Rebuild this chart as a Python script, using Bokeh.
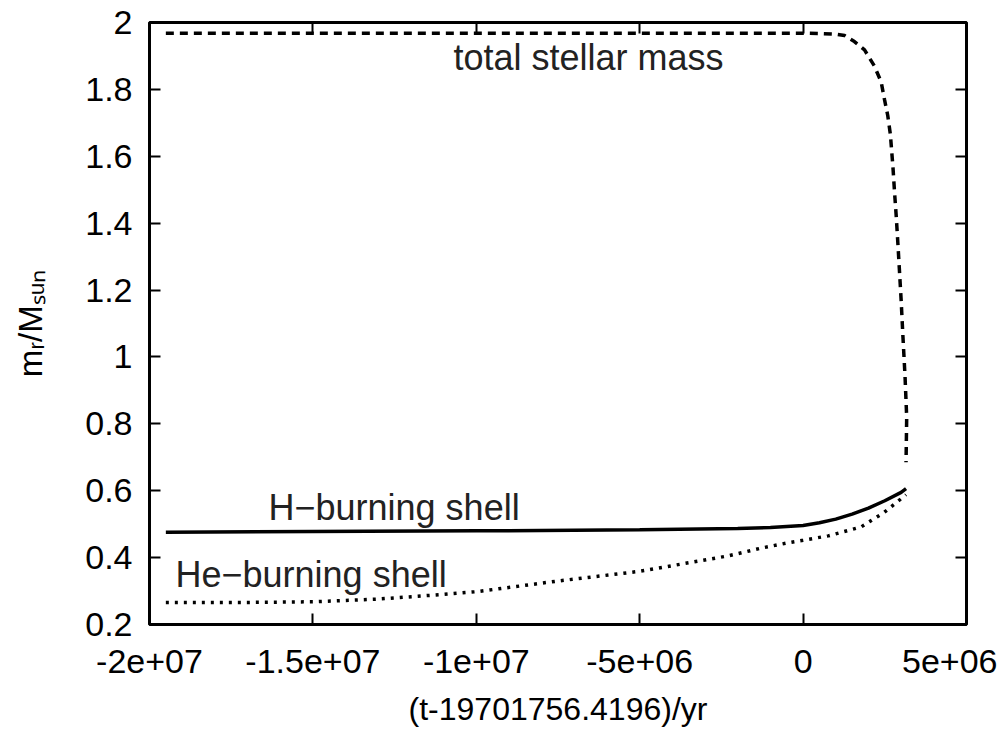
import math
from bokeh.plotting import figure
from bokeh.models import LinearAxis, FixedTicker, Label, CustomJSTickFormatter, Range1d
from bokeh.embed import file_html
from bokeh.resources import INLINE

# ---------------- data ----------------
mass_t = [-1.95e7, -1.0e7, 0.0, 5.0e5, 1.0e6, 1.27e6, 1.57e6, 1.88e6, 2.18e6, 2.39e6,
          2.49e6, 2.59e6, 2.67e6, 2.75e6, 2.80e6, 2.85e6, 2.90e6, 2.95e6, 3.00e6,
          3.05e6, 3.12e6, 3.17e6, 3.15e6]
mass_m = [1.968, 1.968, 1.968, 1.967, 1.965, 1.961, 1.943, 1.918, 1.870, 1.822,
          1.770, 1.722, 1.666, 1.567, 1.490, 1.420, 1.340, 1.255, 1.170,
          1.070, 0.940, 0.820, 0.685]

h_t = [-1.95e7, -1.5e7, -1.0e7, -5.0e6, -2.0e6, -1.0e6, 0.0, 5.0e5, 1.0e6, 1.5e6,
       2.0e6, 2.5e6, 3.0e6, 3.15e6]
h_m = [0.476, 0.478, 0.480, 0.483, 0.487, 0.490, 0.496, 0.504, 0.515, 0.530,
       0.548, 0.570, 0.595, 0.606]

he_t = [-1.95e7, -1.7e7, -1.5e7, -1.3e7, -1.1e7, -1.0e7, -7.5e6, -5.0e6, -2.3e6,
        -1.3e6, -3.7e5, 0.0, 7.7e5, 1.78e6, 2.48e6, 3.15e6]
he_m = [0.266, 0.266, 0.268, 0.276, 0.290, 0.298, 0.330, 0.359, 0.405,
        0.428, 0.446, 0.452, 0.465, 0.492, 0.535, 0.588]

x_ticks = [-2e7, -1.5e7, -1e7, -5e6, 0, 5e6]
x_tick_labels = ["-2e+07", "-1.5e+07", "-1e+07", "-5e+06", "0", "5e+06"]
y_ticks = [0.2, 0.4, 0.6, 0.8, 1.0, 1.2, 1.4, 1.6, 1.8, 2.0]
y_tick_labels = ["0.2", "0.4", "0.6", "0.8", "1", "1.2", "1.4", "1.6", "1.8", "2"]

x_label = "(t-19701756.4196)/yr"
y_label = "m\u1d63/M\u209b\u1d64\u2099"     # m_r / M_sun
curve_labels = ["total stellar mass", "H\u2212burning shell", "He\u2212burning shell"]

# ---------------- figure ----------------
FONT = "Liberation Sans"
TICK_SIZE = "34px"
X0, X1 = -2e7, 5e6
Y0, Y1 = 0.2, 2.0
W, H = 997, 730
FL, FR, FT, FB = 149, 966, 22, 624   # frame edges in page pixels

p = figure(width=W, height=H,
           x_range=Range1d(X0, X1), y_range=Range1d(Y0, Y1),
           output_backend="svg", toolbar_location=None,
           min_border_left=FL, min_border_right=W - FR,
           min_border_top=FT, min_border_bottom=H - FB)
p.xgrid.visible = False
p.ygrid.visible = False
p.background_fill_color = "white"
p.border_fill_color = "white"
p.outline_line_color = "black"
p.outline_line_width = 3
p.outline_line_alpha = 1.0


def px_to_x(px):
    return X0 + (px - FL) * (X1 - X0) / (FR - FL)


def py_to_y(py):
    return Y1 - (py - FT) * (Y1 - Y0) / (FB - FT)


def fmt(tvals, tlabels):
    return CustomJSTickFormatter(args=dict(tvals=tvals, tlabels=tlabels), code="""
        for (let i = 0; i < tvals.length; i++) {
            if (Math.abs(tvals[i] - tick) < 1e-6 * Math.max(1, Math.abs(tvals[i]))) return tlabels[i];
        }
        return '';
    """)


def style_axis(ax, tvals, tlabels, show_labels):
    ax.ticker = FixedTicker(ticks=tvals)
    ax.axis_line_color = None
    ax.major_tick_in = 11
    ax.major_tick_out = 0
    ax.major_tick_line_width = 2
    ax.major_tick_line_color = "black"
    ax.minor_tick_line_color = None
    if show_labels:
        ax.formatter = fmt(tvals, tlabels)
        ax.major_label_text_font = FONT
        ax.major_label_text_font_size = TICK_SIZE
        ax.major_label_text_color = "black"
    else:
        ax.formatter = CustomJSTickFormatter(code="return '';")
        ax.major_label_text_font_size = "0px"
        ax.major_label_standoff = 0


xa = p.xaxis[0]
ya = p.yaxis[0]
style_axis(xa, x_ticks, x_tick_labels, True)
style_axis(ya, y_ticks, y_tick_labels, True)
xa.major_label_standoff = 25
ya.major_label_standoff = 17
xa.axis_label = x_label
xa.axis_label_text_font = FONT
xa.axis_label_text_font_size = "32px"
xa.axis_label_text_font_style = "normal"
xa.axis_label_text_color = "black"
xa.axis_label_standoff = 15

ya.axis_label = y_label
ya.axis_label_text_font = FONT
ya.axis_label_text_font_size = "33px"
ya.axis_label_text_font_style = "normal"
ya.axis_label_text_color = "black"
ya.axis_label_standoff = 33

top = LinearAxis()
right = LinearAxis()
style_axis(top, x_ticks, x_tick_labels, False)
style_axis(right, y_ticks, y_tick_labels, False)
p.add_layout(top, "above")
p.add_layout(right, "right")

# ---------------- curves ----------------
p.line(mass_t, mass_m, line_color="black", line_width=3.5, line_dash="8 6")
p.line(h_t, h_m, line_color="black", line_width=3.5)
p.line(he_t, he_m, line_color="black", line_width=3.5, line_dash="3 6")

# ---------------- curve annotations (left edge, vertical centre in page px) ----------------
ANN_COLOR = "#222222"
ANN_SIZE = "36px"
ann_pos = [(453, 57), (268, 507), (175, 574)]
for txt, (lx, ly) in zip(curve_labels, ann_pos):
    p.add_layout(Label(x=px_to_x(lx), y=py_to_y(ly), text=txt, text_font=FONT,
                       text_font_size=ANN_SIZE, text_color=ANN_COLOR,
                       text_align="left", text_baseline="middle"))

open("out.html", "w").write(file_html(p, INLINE))
